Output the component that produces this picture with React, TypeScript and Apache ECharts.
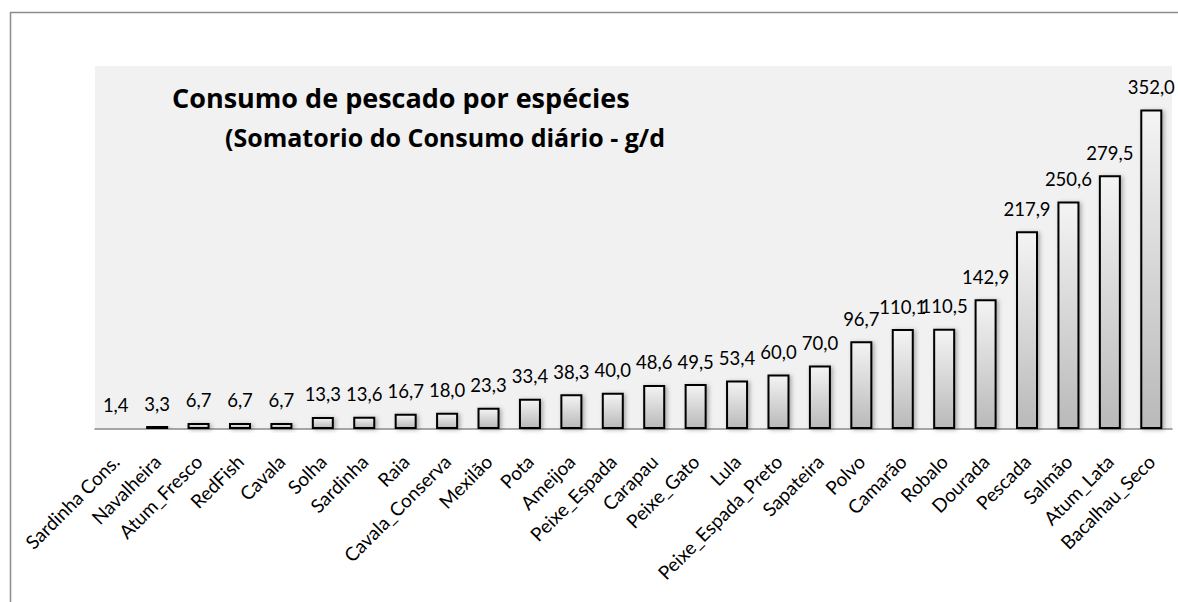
import React, { useEffect, useRef } from "react";
import * as echarts from "echarts";

const categories = [
  "Sardinha Cons.", "Navalheira", "Atum_Fresco", "RedFish", "Cavala", "Solha", "Sardinha", "Raia",
  "Cavala_Conserva", "Mexilão", "Pota", "Ameijoa", "Peixe_Espada", "Carapau", "Peixe_Gato", "Lula",
  "Peixe_Espada_Preto", "Sapateira", "Polvo", "Camarão", "Robalo", "Dourada", "Pescada", "Salmão",
  "Atum_Lata", "Bacalhau_Seco",
];
const values = [
  1.4, 3.3, 6.7, 6.7, 6.7, 13.3, 13.6, 16.7, 18.0, 23.3, 33.4, 38.3, 40.0, 48.6, 49.5, 53.4, 60.0,
  70.0, 96.7, 110.1, 110.5, 142.9, 217.9, 250.6, 279.5, 352.0,
];
const titleText = "Consumo de pescado por espécies";
const subtitleText = "(Somatorio do Consumo diário - g/d";

const FONT = "Lato";
const TFONT = "Open Sans";

export default function App() {
  const ref = useRef<HTMLDivElement>(null);
  useEffect(() => {
    if (!ref.current) return;
    const chart = echarts.init(ref.current, null, { renderer: "svg" });
    chart.setOption({
      animation: false,
      backgroundColor: "#ffffff",
      title: [
        {
          text: titleText,
          left: 172,
          top: 84,
          padding: 0,
          textStyle: { fontFamily: TFONT, fontWeight: "bold", fontSize: 27, color: "#000" },
        },
        {
          text: subtitleText,
          left: 225,
          top: 124,
          padding: 0,
          textStyle: { fontFamily: TFONT, fontWeight: "bold", fontSize: 25, color: "#000" },
        },
      ],
      graphic: [
        {
          type: "rect",
          silent: true,
          z: -10,
          shape: { x: 10.5, y: 12.5, width: 1300, height: 700 },
          style: { fill: "none", stroke: "#8c8c8c", lineWidth: 1.5 },
        },
      ],
      grid: {
        left: 95,
        right: 6,
        top: 66,
        bottom: 173,
        show: true,
        backgroundColor: "#f1f1f1",
        borderWidth: 0,
        containLabel: false,
      },
      xAxis: {
        type: "category",
        data: categories,
        axisLine: { show: true, lineStyle: { color: "#8a8a8a", width: 1.5 } },
        axisTick: { show: false },
        axisLabel: {
          interval: 0,
          rotate: 45,
          margin: 29,
          verticalAlign: "middle",
          fontFamily: FONT,
          fontSize: 19,
          color: "#000",
        },
      },
      yAxis: {
        type: "value",
        min: 0,
        max: 400,
        show: false,
        splitLine: { show: false },
      },
      series: [
        {
          type: "bar",
          data: values,
          barWidth: 22,
          itemStyle: {
            color: new echarts.graphic.LinearGradient(0, 0, 0, 1, [
              { offset: 0, color: "#f4f4f4" },
              { offset: 1, color: "#b9b9b9" },
            ]),
            borderColor: "#000",
            borderWidth: 2,
            shadowBlur: 4,
            shadowOffsetX: 2,
            shadowOffsetY: 1,
            shadowColor: "rgba(0,0,0,0.3)",
          },
          label: {
            show: true,
            position: "top",
            distance: 13,
            fontFamily: FONT,
            fontSize: 18.5,
            color: "#000",
            formatter: (p: any) => Number(p.value).toFixed(1).replace(".", ","),
          },
        },
      ],
    });
    return () => chart.dispose();
  }, []);
  return (
    <div
      ref={ref}
      style={{ position: "fixed", left: 0, top: 0, width: 1178, height: 602 }}
    />
  );
}
